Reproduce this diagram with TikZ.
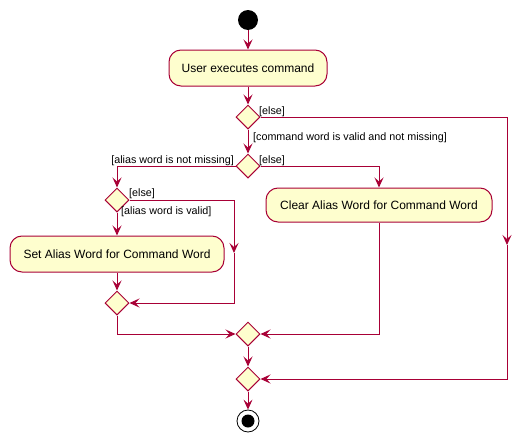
\documentclass[tikz,border=0pt]{standalone}
\usepackage{fontspec}
\setmainfont{Liberation Sans}
\usetikzlibrary{shapes.geometric,arrows.meta}
\definecolor{pbord}{HTML}{A80036}
\definecolor{pfill}{HTML}{FEFECE}
\tikzset{
  act/.style={draw=pbord,fill=pfill,line width=1pt,rounded corners=12pt,minimum height=36pt,inner sep=0pt,font=\fontsize{12}{14}\selectfont},
  dec/.style={draw=pbord,fill=pfill,line width=1pt,diamond,minimum width=24pt,minimum height=24pt,inner sep=0pt,aspect=1},
  lbl/.style={font=\fontsize{10.75}{13}\selectfont,inner sep=0pt},
  conn/.style={draw=pbord,line width=1pt},
  arr/.style={conn,-{Stealth[length=10pt,width=9pt,inset=4pt]}}
}
\begin{document}
\begin{tikzpicture}[x=1pt,y=-1pt]
\useasboundingbox (0,0) rectangle (531,442);
\node[circle,fill=black,minimum size=20pt,inner sep=0pt] (start) at (248,20) {};
\node[act,minimum width=158pt] (user) at (248,68) {User executes command};
\node[dec] (d1) at (248,117) {};
\node[dec] (d2) at (248,166) {};
\node[dec] (d3) at (117,200) {};
\node[act,minimum width=226pt,minimum height=34pt] (clear) at (379,205) {Clear Alias Word for Command Word};
\node[act,minimum width=214pt] (set) at (117,254) {Set Alias Word for Command Word};
\node[dec] (d4) at (117,303) {};
\node[dec] (d5) at (248,334) {};
\node[dec] (d6) at (248,379) {};
\node[circle,draw=black,fill=white,line width=0.8pt,minimum size=22pt,inner sep=0pt] (endo) at (248,421) {};
\node[circle,fill=black,minimum size=13pt,inner sep=0pt] (endi) at (248,421) {};
\coordinate (m1) at (507,245);
\coordinate (m2) at (234,253);

\draw[arr] (start) -- (user);
\draw[arr] (user) -- (d1);
\draw[arr] (d1) -- (d2);
\draw[arr] (d1.east) -| (m1);
\draw[arr] (m1) |- (d6.east);
\draw[arr] (d2.west) -| (d3.north);
\draw[arr] (d2.east) -| (clear.north);
\draw[arr] (d3) -- (set);
\draw[arr] (d3.east) -| (m2);
\draw[arr] (m2) |- (d4.east);
\draw[arr] (set) -- (d4);
\draw[arr] (d4.south) |- (d5.west);
\draw[arr] (clear.south) |- (d5.east);
\draw[arr] (d5) -- (d6);
\draw[arr] (d6) -- (endo);

\node[lbl,anchor=base west] (l1) at (259,114) {[else]};
\node[lbl,anchor=base west] (l2) at (253,140) {[command word is valid and not missing]};
\node[lbl,anchor=base west] (l3) at (259,163) {[else]};
\node[lbl,anchor=base east] (l4) at (234,163) {[alias word is not missing]};
\node[lbl,anchor=base west] (l5) at (129,196) {[else]};
\node[lbl,anchor=base west] (l6) at (121,214) {[alias word is valid]};
\end{tikzpicture}
\end{document}
